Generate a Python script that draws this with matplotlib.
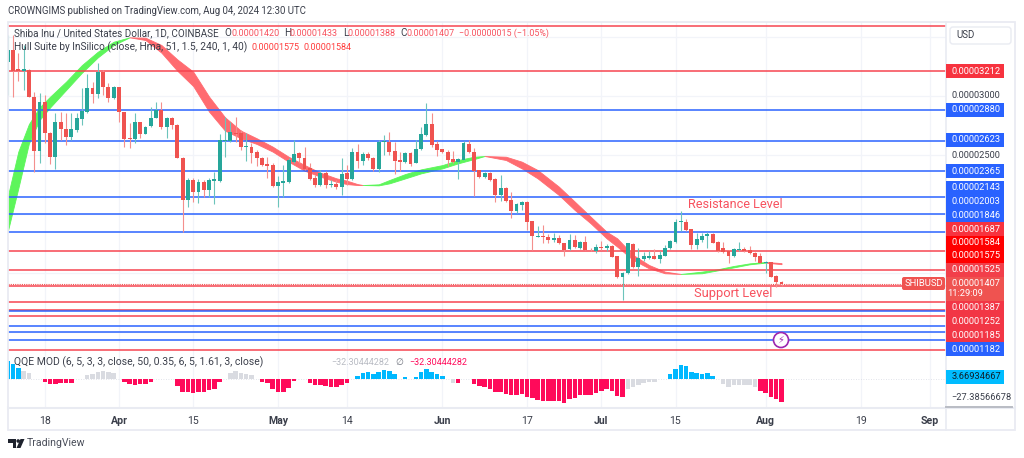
import numpy as np
import matplotlib
matplotlib.use("Agg")
import matplotlib.pyplot as plt
from matplotlib.patches import Rectangle, Circle, FancyBboxPatch, Polygon

# prices are in units of 0.00000001 USD
opens = [3291,3390,3226,3212,3221,2995,2537,2952,2690,2486,2777,2718,2650,2712,2805,2868,3065,3017,3207,3079,
         2981,3074,2862,2642,2636,2777,2678,2746,2817,2882,2741,2811,2755,2478,2119,2286,2190,2274,2204,2280,
         2280,2616,2622,2690,2684,2571,2571,2526,2478,2427,2416,2238,2266,2274,2444,2515,2472,2387,2303,2246,
         2351,2246,2255,2232,2345,2297,2526,2452,2506,2478,2381,2607,2613,2534,2458,2438,2514,2432,2548,2670,
         2760,2593,2548,2526,2463,2444,2461,2593,2526,2373,2316,2350,2297,2158,2223,2119,2026,2079,2099,1938,
         1808,1816,1805,1780,1800,1751,1701,1780,1712,1760,1698,1689,1723,1712,1729,1644,1463,1497,1746,1554,
         1616,1631,1645,1619,1647,1710,1763,1933,1933,1871,1738,1783,1814,1831,1766,1710,1690,1645,1695,1707,
         1695,1667,1647,1588,1591,1475,1420]
highs = [3517,3517,3362,3433,3226,3037,3023,3009,2698,2853,2868,2853,2853,2853,3065,3187,3122,3277,3221,3108,
         3085,3079,2868,2769,2853,2783,2746,2904,2952,2952,2825,2825,2763,2486,2303,2303,2294,2288,2303,2359,
         2678,2820,2783,2820,2712,2684,2599,2543,2486,2486,2430,2322,2416,2472,2627,2529,2571,2430,2331,2373,
         2368,2288,2288,2472,2415,2557,2593,2526,2526,2486,2627,2670,2692,2613,2529,2526,2526,2627,2740,2938,
         2859,2622,2554,2542,2537,2472,2619,2627,2557,2373,2359,2359,2302,2328,2226,2189,2096,2110,2110,1944,
         1898,1907,1828,1836,1822,1757,1828,1822,1774,1814,1709,1743,1774,1746,1737,1647,1511,1757,1752,1710,
         1676,1690,1701,1690,1738,1780,1955,2029,1955,1873,1837,1842,1845,1837,1775,1766,1695,1710,1766,1718,
         1729,1681,1667,1605,1597,1484,1433]
lows = [3009,2995,3128,3051,2989,2359,2430,2599,2424,2379,2627,2585,2627,2698,2755,2853,2938,2981,3009,2952,
        2972,2783,2571,2557,2599,2642,2676,2741,2811,2718,2642,2718,2472,1851,2062,2105,2091,2142,2147,2085,
        2274,2486,2613,2613,2543,2452,2430,2407,2407,2308,2232,2062,2147,2266,2430,2430,2373,2288,2232,2238,
        2218,2232,2209,2161,2246,2288,2387,2415,2458,2365,2359,2500,2500,2336,2365,2430,2407,2430,2542,2664,
        2571,2492,2514,2407,2430,2294,2458,2514,2153,2302,2302,2283,2105,2113,2105,1969,2011,2034,1864,1695,
        1802,1757,1751,1766,1746,1644,1695,1709,1701,1692,1689,1667,1695,1689,1633,1458,1271,1492,1540,1475,
        1605,1619,1616,1588,1645,1704,1758,1859,1859,1701,1701,1766,1710,1752,1681,1667,1588,1639,1690,1676,
        1662,1605,1582,1498,1464,1385,1388]
closes = [3390,3212,3212,3226,2989,2534,2952,2684,2486,2777,2718,2650,2718,2811,2873,3065,3017,3207,3079,2981,
          3074,2862,2636,2633,2777,2676,2741,2817,2882,2741,2811,2752,2478,2119,2286,2190,2274,2204,2286,2294,
          2627,2627,2695,2678,2565,2580,2520,2478,2418,2410,2238,2272,2283,2458,2506,2472,2379,2297,2246,2351,
          2246,2255,2226,2336,2297,2526,2452,2506,2475,2381,2610,2619,2526,2449,2441,2514,2424,2551,2675,2760,
          2585,2542,2523,2458,2438,2466,2605,2526,2367,2311,2345,2288,2158,2218,2113,2026,2082,2099,1935,1814,
          1816,1805,1780,1800,1751,1695,1780,1718,1760,1695,1692,1723,1712,1729,1639,1463,1503,1751,1549,1625,
          1645,1642,1622,1653,1715,1772,1933,1941,1865,1738,1786,1814,1828,1758,1690,1681,1645,1701,1707,1690,
          1667,1639,1588,1597,1469,1427,1407]

# Hull Suite band, one part per colour
hull_green1_days = [0,2,4,6,8,11,14,17,20,23]
hull_green1_top = [2147,2529,2763,2904,2995,3122,3263,3376,3461,3498]
hull_green1_bot = [1851,2218,2599,2797,2904,3051,3198,3328,3433,3498]
hull_red1_days = [23,26,29,32,35,38,41,44,47,50,53,56,59,62,64,66,67]
hull_red1_top = [3498,3495,3433,3311,3207,2995,2820,2707,2642,2571,2486,2416,2351,2303,2283,2254,2246]
hull_red1_bot = [3498,3475,3368,3215,3085,2868,2707,2642,2594,2529,2444,2368,2317,2274,2254,2246,2246]
hull_green2_days = [67,70,72,75,78,82,85,88,90]
hull_green2_top = [2246,2252,2288,2339,2379,2415,2458,2486,2492]
hull_green2_bot = [2246,2243,2260,2302,2345,2387,2430,2466,2492]
hull_red2_days = [90,94,97,100,104,107,110,113,115,118,121,124,127]
hull_red2_top = [2492,2486,2444,2373,2232,2105,1977,1850,1794,1653,1568,1512,1492]
hull_red2_bot = [2492,2458,2387,2302,2161,2034,1921,1794,1724,1611,1540,1498,1492]
hull_green3_days = [127,131,134,137,140,143]
hull_green3_top = [1492,1512,1532,1560,1582,1594]
hull_green3_bot = [1492,1498,1523,1548,1574,1588]
hull_red3_days = [143,146]
hull_red3_top = [1594,1584]
hull_red3_bot = [1588,1575]

red_levels = [3598,3212,1687,1525,1387,1252,1185,1136,848]
blue_levels = [2880,2623,2365,2143,2003,1846,1182,1051,1000,932]
last_price = 1407
grid_prices = [3500,3000,2500,2000,1500,1000]

qqe_vals = [27,22,16,12.5,8.7,0,0,-3.4,-6.7,-6.7,-5.8,-4.8,-4.8,0,0,6,7,11,12.5,10,
            9.6,0,-4.3,-7.2,-8,-7.2,-7.2,-4.3,0,0,0,0,-9.6,-17.8,-17.8,-20,-18.7,-17.8,-15.4,-14,
            -4.3,0,8.7,12,9.6,7.2,5.8,0,-4.3,-5.8,-13.5,-17.8,-18.7,-13,-3,0,0,-5.8,-8,-8,
            -9.6,-10.6,-11.5,-8,-5.8,0,5.3,9,10,7.2,10,13.5,11.5,7.7,0,3.8,0,3.8,10,14.4,
            11,7.7,4.3,0,-4.8,-5.8,0,0,-6.2,-9,-11.5,-14,-18.7,-18.7,-21,-23,-23,-21.6,-25,-27.4,
            -29.8,-31,-32,-31.7,-32,-33.6,-28,-27,-22,-22,-22,-20,-17,-14,-17,-23.5,-25,-14,-11.5,-8,
            -5.8,-4.3,-3.4,0,0,7.2,15.4,20,19.7,11,8.7,8,8.7,5.3,0,-6.2,-10.6,-7.7,-7.7,-7.7,
            -8.6,-11.5,-16.3,-19.2,-26,-28.8,-32.3]
qqe_grey_days = [3,4,15,16,17,18,19,20,42,43,44,45,46,84,117,118,119,120,121,122,135,136,137,138,139,140,141]

tick_days = [7,21,35,51,64,82,98,112,126,143,161,174]
tick_labels = ["18","Apr","15","May","14","Jun","17","Jul","15","Aug","19","Sep"]
month_labels = ["Apr","May","Jun","Jul","Aug","Sep"]

# label, centre row in the price scale, box colour
scale_boxes = [("0.00003212",71,"#f7333f"),("0.00002880",110,"#2962ff"),("0.00002623",140,"#2962ff"),
               ("0.00002365",171,"#2962ff"),("0.00002143",188,"#2962ff"),("0.00002003",202,"#2962ff"),
               ("0.00001846",215.5,"#2962ff"),("0.00001687",229,"#f7333f"),("0.00001584",242.5,"#ff0000"),
               ("0.00001575",256,"#ff0000"),("0.00001525",269.5,"#f23f4a"),("0.00001387",308,"#f23645"),
               ("0.00001252",322,"#f23645"),("0.00001185",335.5,"#f23645"),("0.00001182",349,"#2962ff")]
scale_plain = [("0.00003000",95.5),("0.00002500",155)]

W, H = 1024, 458
FONT = "Roboto"
plt.rcParams["font.family"] = [FONT, "DejaVu Sans"]
INK = "#3a3e4a"
RED = "#f7525f"
GREEN = "#26a69a"
CANDLE_RED = "#ef5350"
HULL_GREEN = "#5df55b"
HULL_RED = "#ff6b70"
GRID = "#f2f4f9"
EDGE = "#e9ebf2"

fig = plt.figure(figsize=(W / 100, H / 100), dpi=100, facecolor="white")


def pane(x0, y0, x1, y1):
    return fig.add_axes([x0 / W, 1 - y1 / H, (x1 - x0) / W, (y1 - y0) / H])


# x pixel = 7.7 + 5.3 * day
xlim = ((8 - 7.7) / 5.3, (946 - 7.7) / 5.3)

ax = pane(8, 22, 946, 351)
ax.set_xlim(xlim)
ax.set_ylim(839, 3628)
ax.set_xticks([])
ax.set_yticks([])
for s in ax.spines.values():
    s.set_visible(False)
for d in tick_days:
    ax.axvline(d, color=GRID, lw=0.9, zorder=0)
for p in grid_prices:
    ax.axhline(p, color=GRID, lw=0.9, zorder=0)

bands = [(hull_green1_days, hull_green1_top, hull_green1_bot, HULL_GREEN),
         (hull_red1_days, hull_red1_top, hull_red1_bot, HULL_RED),
         (hull_green2_days, hull_green2_top, hull_green2_bot, HULL_GREEN),
         (hull_red2_days, hull_red2_top, hull_red2_bot, HULL_RED),
         (hull_green3_days, hull_green3_top, hull_green3_bot, HULL_GREEN),
         (hull_red3_days, hull_red3_top, hull_red3_bot, HULL_RED)]
for days, top_edge, bot_edge, col in bands:
    ax.fill_between(days, bot_edge, top_edge, color=col, lw=0.6, zorder=1)

for p in red_levels:
    ax.axhline(p, color="#f7434f", lw=1.15, alpha=0.95, zorder=2)
for p in blue_levels:
    ax.axhline(p, color="#2962ff", lw=1.15, alpha=0.95, zorder=2)
ax.axhline(last_price, color=CANDLE_RED, lw=0.8, ls=(0, (1, 1)), zorder=2)

days = np.arange(len(closes))
o = np.array(opens)
c = np.array(closes)
up = c >= o
cols = np.where(up, GREEN, CANDLE_RED)
ax.vlines(days, lows, highs, colors=np.where(up, "#6cc4bb", "#f48f8d"), lw=0.8, zorder=3)
ax.bar(days, np.abs(c - o), bottom=np.minimum(o, c), width=0.72, color=cols, lw=0, zorder=4)

ind = pane(8, 351, 946, 408)
ind.set_xlim(xlim)
ind.set_ylim(-41.4, 40.8)
for s in ind.spines.values():
    s.set_visible(False)
ind.set_yticks([])
ind.set_xticks(tick_days)
ind.set_xticklabels(tick_labels, fontsize=7.6, color=INK)
ind.tick_params(axis="x", length=0, pad=5.5)
for lab in ind.get_xticklabels():
    if lab.get_text() in month_labels:
        lab.set_fontweight("bold")
for d in tick_days:
    ind.axvline(d, color=GRID, lw=0.9, zorder=0)
ind.axhline(0, color="#d8dbe3", lw=0.6, ls=(0, (1, 2)), zorder=1)
qqe_cols = []
for d, v in enumerate(qqe_vals):
    if d in qqe_grey_days:
        qqe_cols.append("#d9dbe1")
    elif v > 0:
        qqe_cols.append("#00b8ff")
    else:
        qqe_cols.append("#ff0a5a")
ind.bar(np.arange(len(qqe_vals)), qqe_vals, width=0.85, color=qqe_cols, lw=0, zorder=2)

# page furniture, in image pixels
top = fig.add_axes([0, 0, 1, 1], facecolor="none")
top.set_xlim(0, W)
top.set_ylim(H, 0)
top.axis("off")
top.add_patch(Rectangle((8, 22), 1007, 408, fill=False, ec=EDGE, lw=1.3))
top.plot([946, 946], [22, 430], color=EDGE, lw=1.2)
top.plot([8, 1015], [408, 408], color=EDGE, lw=1.5)
top.plot([946, 1012], [407, 407], color="#b9bcc4", lw=1.4)
top.add_patch(FancyBboxPatch((950, 27), 61, 17, boxstyle="round,pad=0,rounding_size=3", fc="white", ec=EDGE, lw=1))
top.text(956, 35.5, "USD", fontsize=7, color=INK, va="center")


def t(x, y, s, col=INK, size=7.1, **kw):
    return top.text(x, y, s, fontsize=size, color=col, va="center", **kw)


t(8, 11.5, "CROWNGIMS published on TradingView.com, Aug 04, 2024 12:30 UTC", size=6.9)
t(14, 33.5, "Shiba Inu / United States Dollar, 1D, COINBASE")
for x, s in [(224, "O"), (284, "H"), (343, "L"), (400.5, "C")]:
    t(x, 33.5, s)
for x, s in [(231, "0.00001420"), (290, "0.00001433"), (348, "0.00001388"), (406.5, "0.00001407")]:
    t(x, 33.5, s, col="#f7525f", size=6.5)
t(459, 33.5, "\u22120.00000015 (\u22121.05%)", col="#f7525f", size=6.4)
t(14, 47, "Hull Suite by InSilico (close, Hma, 51, 1.5, 240, 1, 40)", size=7.25)
t(252, 47, "0.00001575", col="#ff3b3b", size=6.5)
t(304, 47, "0.00001584", col="#ff3b3b", size=6.5)
t(14, 362.5, "QQE MOD (6, 5, 3, 3, close, 50, 0.35, 6, 5, 1.61, 3, close)", size=7.5)
t(331, 362.5, "\u221232.30444282", col="#b8bbc3", size=6.5)
t(395, 362.5, "\u2205", col="#70747f", size=6.5)
t(409, 362.5, "\u221232.30444282", col="#ff0a5a", size=6.5)

t(688, 204, "Resistance Level", col=RED, size=9.1)
t(694, 294, "Support Level", col=RED, size=9.3)

for s, y, col in scale_boxes:
    top.add_patch(Rectangle((946, y - 7), 57.5, 14, fc=col, ec="none", zorder=3))
    top.text(976, y, s, fontsize=6.7, color="white", ha="center", va="center", zorder=4)
for s, y in scale_plain:
    top.text(976, y, s, fontsize=6.7, color=INK, ha="center", va="center")
top.add_patch(Rectangle((946, 276.5), 57.5, 24.5, fc="#ef5350", ec="none", zorder=3))
top.text(976, 283, "0.00001407", fontsize=6.7, color="white", ha="center", va="center", zorder=4)
top.text(965, 294, "11:29:09", fontsize=6.7, color="white", ha="center", va="center", zorder=4)
top.add_patch(FancyBboxPatch((902, 277), 43, 13, boxstyle="round,pad=0,rounding_size=2", fc="#ef5350", ec="none", zorder=3))
top.text(923.5, 283.5, "SHIBUSD", fontsize=6.8, color="white", ha="center", va="center", zorder=4)
top.add_patch(Rectangle((946, 369.5), 57.5, 14, fc="#00bcff", ec="none", zorder=3))
top.text(976, 376.5, "3.66934667", fontsize=6.7, color="#10202a", ha="center", va="center", zorder=4)
top.text(981, 398, "\u221227.38566678", fontsize=6.7, color=INK, ha="center", va="center")

top.add_patch(Circle((781, 340), 7.5, fc="white", ec="#9c27b0", lw=1.2, zorder=3))
top.text(781, 340, "\u26a1", fontsize=7, color="#9c27b0", ha="center", va="center", family="DejaVu Sans", zorder=4)

# TradingView mark
top.add_patch(Polygon([(8, 439), (16, 439), (16, 448), (12.5, 448), (12.5, 442.5), (8, 442.5)], fc="#1e222d", ec="none"))
top.add_patch(Circle((18.2, 441), 1.8, fc="#1e222d", ec="none"))
top.add_patch(Polygon([(20.5, 439), (24.5, 439), (20.5, 448), (16.5, 448)], fc="#1e222d", ec="none"))
t(27, 443.5, "TradingView", size=7.6, col="#4a4e5a")

fig.savefig("out.png", dpi=100)
